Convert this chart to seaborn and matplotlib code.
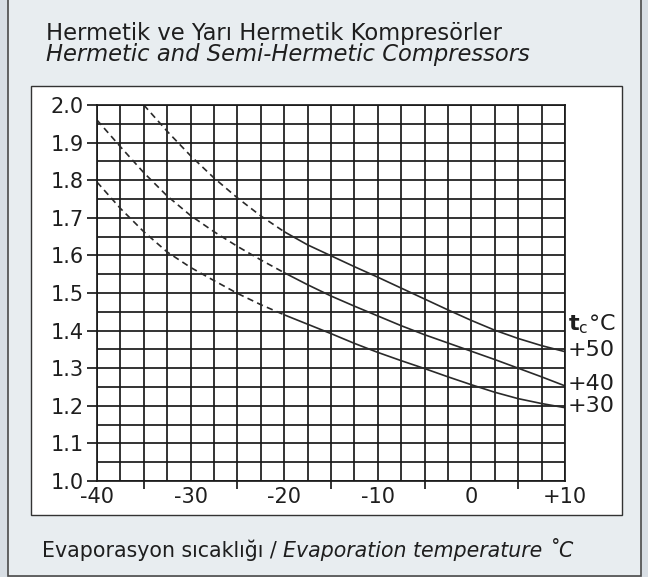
import numpy as np
import pandas as pd
import seaborn as sns
import matplotlib.pyplot as plt
from matplotlib.patches import Rectangle

# evaporation temperature (C) and pressure-ratio-like factor
temps = [-40, -37.5, -35, -32.5, -30, -27.5, -25, -22.5, -20, -17.5, -15,
         -12.5, -10, -7.5, -5, -2.5, 0, 2.5, 5, 7.5, 10]
tc30 = [1.795, 1.725, 1.663, 1.609, 1.568, 1.533, 1.499, 1.469, 1.442, 1.417, 1.392,
        1.366, 1.342, 1.320, 1.299, 1.277, 1.256, 1.236, 1.219, 1.206, 1.195]
tc40 = [1.960, 1.889, 1.820, 1.758, 1.706, 1.663, 1.624, 1.588, 1.554, 1.522, 1.492,
        1.465, 1.439, 1.413, 1.389, 1.367, 1.345, 1.323, 1.300, 1.277, 1.253]
tc50 = [np.nan, np.nan, 2.000, 1.930, 1.865, 1.806, 1.753, 1.705, 1.663, 1.628, 1.599,
        1.570, 1.542, 1.513, 1.484, 1.455, 1.427, 1.401, 1.379, 1.360, 1.344]
dashed_until = -20

x_ticks = [-40, -30, -20, -10, 0, 10]
x_labels = ["-40", "-30", "-20", "-10", "0", "+10"]
y_ticks = [1.0, 1.1, 1.2, 1.3, 1.4, 1.5, 1.6, 1.7, 1.8, 1.9, 2.0]
y_labels = ["1.0", "1.1", "1.2", "1.3", "1.4", "1.5", "1.6", "1.7", "1.8", "1.9", "2.0"]

title_tr = "Hermetik ve Yarı Hermetik Kompresörler"
title_en = "Hermetic and Semi-Hermetic Compressors"
xlabel_tr = "Evaporasyon sıcaklığı / "
xlabel_en = "Evaporation temperature ˚C"

df = pd.DataFrame({"T": temps, "+30": tc30, "+40": tc40, "+50": tc50})
df = df.melt(id_vars="T", var_name="tc", value_name="ratio").dropna()

W, H = 648, 577
sns.set_theme(style="white")
plt.rcParams["font.family"] = ["DejaVu Sans"]
txt = "#1e1e1e"
grid_c = "#1a1a1a"

fig = plt.figure(figsize=(W / 100, H / 100), dpi=100)
fig.patch.set_facecolor("#d8dee4")

# light panel and white chart box
fig.add_artist(Rectangle((8 / W, 1 - 576 / H), 633 / W, 576 / H + 0.02,
                         transform=fig.transFigure, facecolor="#e8edf0",
                         edgecolor="#4a4a4a", lw=1.2, zorder=-10))
fig.add_artist(Rectangle((31 / W, 1 - 515 / H), 591 / W, 429 / H,
                         transform=fig.transFigure, facecolor="white",
                         edgecolor="#333333", lw=1.0, zorder=-9))

ax = fig.add_axes([97 / W, 1 - 481 / H, 468 / W, 376 / H])
ax.set_facecolor("none")

line_color = "#2a2a2a"
for tc, grp in df.groupby("tc"):
    dash = grp[grp["T"] <= dashed_until]
    solid = grp[grp["T"] >= dashed_until]
    sns.lineplot(data=dash, x="T", y="ratio", ax=ax, color=line_color,
                 lw=1.2, linestyle=(0, (3.8, 2.6)), estimator=None)
    sns.lineplot(data=solid, x="T", y="ratio", ax=ax, color=line_color,
                 lw=1.2, estimator=None)
    end = solid["ratio"].iloc[-1]
    ax.annotate(tc, xy=(10, end), xytext=(2, 1), textcoords="offset points",
                va="center", ha="left", fontsize=16, color=txt,
                annotation_clip=False)

ax.annotate(r"$\mathbf{t}_{\mathrm{c}}$°C", xy=(10, tc50[-1]), xytext=(2, 20),
            textcoords="offset points", va="center", ha="left", fontsize=16,
            color=txt, annotation_clip=False)

ax.set_xlim(-40, 10)
ax.set_ylim(1.0, 2.0)
ax.set_xticks(x_ticks, labels=x_labels)
ax.set_yticks(y_ticks, labels=y_labels)
ax.set_xticks(np.arange(-40, 10.1, 2.5), minor=True)
ax.set_yticks(np.arange(1.0, 2.001, 0.05), minor=True)
ax.grid(which="both", color=grid_c, lw=1.25)
ax.tick_params(axis="x", which="both", length=0, pad=4, labelsize=15,
               labelcolor=txt)
ax.tick_params(axis="y", which="major", length=7.5, width=1.25, color=grid_c,
               direction="out", pad=2, labelsize=15, labelcolor=txt, left=True)
ax.tick_params(axis="y", which="minor", length=0)
for s in ax.spines.values():
    s.set_color(grid_c)
    s.set_linewidth(1.25)
ax.set_xlabel("")
ax.set_ylabel("")

# small downward ticks between the labelled temperatures
sec = ax.secondary_xaxis("bottom")
sec.set_xticks([-35, -25, -15, -5, 5], labels=[])
sec.tick_params(length=6, width=1.25, color=grid_c, direction="out")
sec.spines["bottom"].set_visible(False)

fig.text(46 / W, 1 - 40 / H, title_tr, fontsize=16.3, va="baseline", color=txt)
fig.text(46 / W, 1 - 61 / H, title_en, fontsize=16.3, style="italic",
         va="baseline", color=txt)

t1 = fig.text(42 / W, 1 - 561 / H, xlabel_tr, fontsize=14.8, va="bottom", color=txt)
ax.annotate(xlabel_en, xy=(1, 0), xycoords=t1, va="bottom", ha="left",
            fontsize=14.8, style="italic", color=txt, annotation_clip=False)

fig.savefig("out.png", dpi=100, facecolor=fig.get_facecolor())
